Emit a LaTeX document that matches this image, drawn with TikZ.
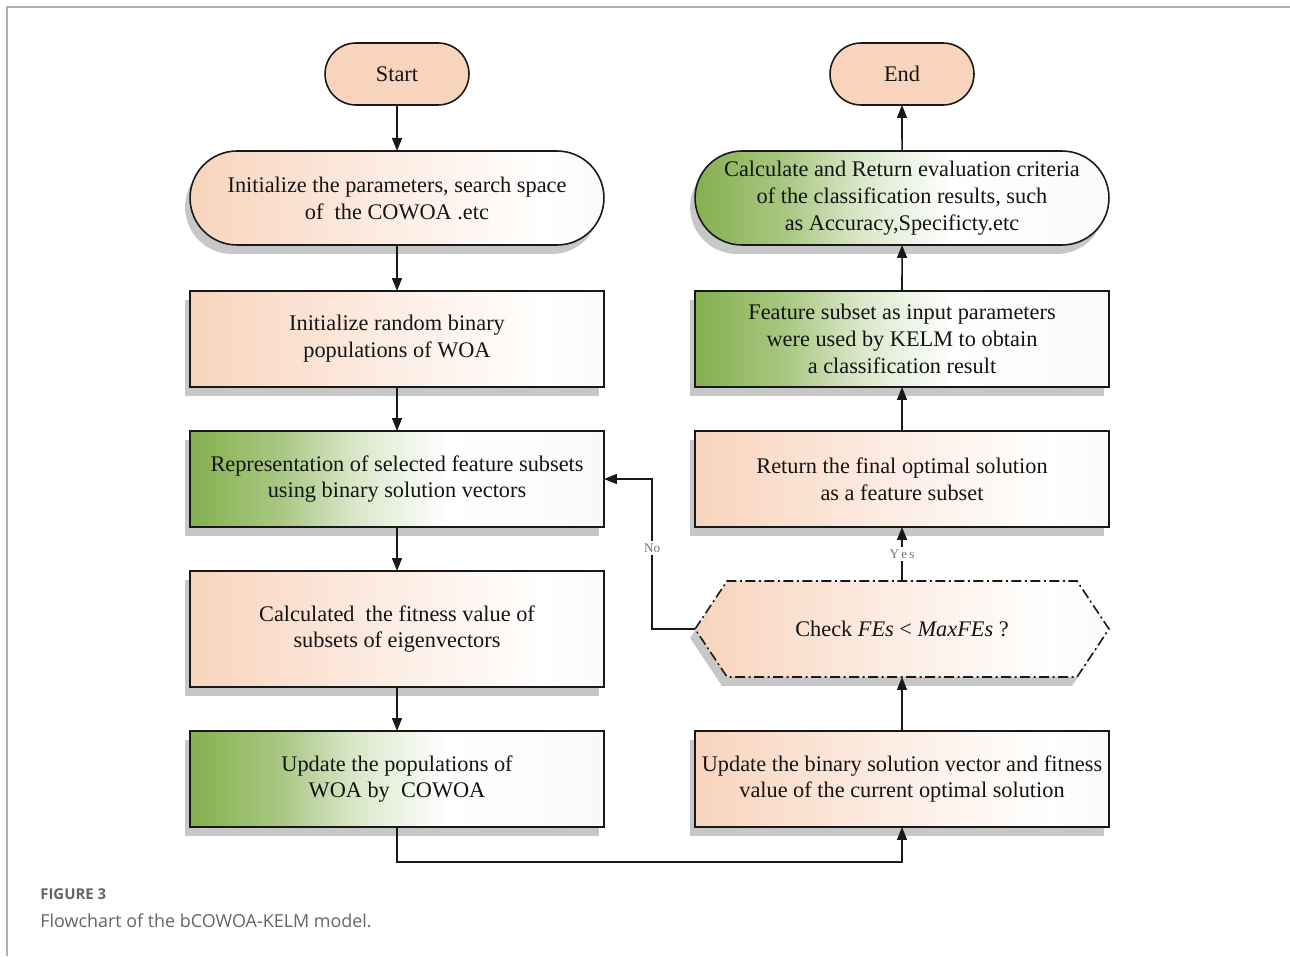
\documentclass[tikz,border=0pt]{standalone}
\usepackage{fontspec}
\setmainfont{Liberation Serif}
\newfontfamily\capfont{Open Sans}
\usetikzlibrary{arrows.meta,shapes.misc,shadows,calc,backgrounds}
\definecolor{peach}{RGB}{248,212,189}
\definecolor{leaf}{RGB}{132,176,78}
\definecolor{endwhite}{RGB}{251,248,248}
\definecolor{framegray}{RGB}{175,175,175}
\definecolor{capgray}{RGB}{100,100,100}
\pgfdeclarehorizontalshading{greenfade}{100bp}{color(0bp)=(leaf); color(25bp)=(leaf); color(36bp)=(leaf!70!white); color(45bp)=(leaf!30!white); color(56bp)=(white); color(75bp)=(endwhite); color(100bp)=(endwhite)}
\pgfdeclarehorizontalshading{peachfade}{100bp}{color(0bp)=(peach); color(25bp)=(peach); color(50bp)=(peach!40!white); color(68bp)=(white); color(75bp)=(endwhite); color(100bp)=(endwhite)}
\begin{document}
\begin{tikzpicture}[x=0.02cm,y=-0.02cm,
  base/.style={font=\fontsize{12.7}{15.3}\selectfont, align=center, text=black!92,
    line width=0.9pt, draw=black!90, inner sep=0pt, outer sep=0pt},
  shad/.style={drop shadow={shadow xshift=-0.1cm, shadow yshift=-0.18cm, fill=black!22, opacity=1}},
  boxp/.style={base, rectangle, minimum width=8.28cm, minimum height=1.92cm, shading=peachfade, shad},
  boxg/.style={base, rectangle, minimum width=8.28cm, minimum height=1.92cm, shading=greenfade, shad},
  stadp/.style={base, rounded rectangle, minimum width=8.28cm, minimum height=1.88cm, shading=peachfade, shad},
  stadg/.style={base, rounded rectangle, minimum width=8.28cm, minimum height=1.88cm, shading=greenfade, shad},
  term/.style={base, rounded rectangle, minimum width=2.88cm, minimum height=1.24cm, fill=peach},
  arr/.style={line width=0.9pt, draw=black!90, -{Triangle[length=0.26cm,width=0.2cm]}},
  lbl/.style={font=\fontsize{7.5}{8}\selectfont, text=black!55, fill=white, inner sep=1.5pt}
]
\useasboundingbox (0,0) rectangle (1290,956);
\draw[framegray, line width=1.1pt] (7,956) -- (7,7) -- (1290,7);

% left column
\node[term] (start) at (397,74) {Start};
\node[stadp] (init) at (397,198) {Initialize the parameters, search space\\of\ \ the COWOA .etc};
\node[boxp] (rand) at (397,339) {Initialize random binary\\populations of WOA};
\node[boxg] (repr) at (397,479) {Representation of selected feature subsets\\using binary solution vectors};
\node[boxp, minimum height=2.32cm] (fit) at (397,629) {Calculated\ \ the fitness value of\\subsets of eigenvectors};
\node[boxg] (upd) at (397,779) {Update the populations of\\WOA by\ \ COWOA};

% right column
\node[term] (end) at (902,74) {End};
\node[stadg] (eval) at (902,198) {Calculate and Return evaluation criteria\\of the classification results, such\\as Accuracy,Specificty.etc};
\node[boxg] (feat) at (902,339) {Feature subset as input parameters\\were used by KELM to obtain\\a classification result};
\node[boxp] (ret) at (902,479) {Return the final optimal solution\\as a feature subset};
\node[base, draw=none, minimum width=8.28cm, minimum height=1.92cm] (chk) at (902,629) {Check \textit{FEs} < \textit{MaxFEs} ?};
\node[boxp] (ubin) at (902,779) {Update the binary solution vector and fitness\\value of the current optimal solution};

\begin{scope}[on background layer]
  \fill[black!22, transform canvas={xshift=-0.1cm, yshift=-0.18cm}]
    (chk.west) -- ($(chk.north west)+(32,0)$) -- ($(chk.north east)+(-32,0)$) -- (chk.east)
    -- ($(chk.south east)+(-32,0)$) -- ($(chk.south west)+(32,0)$) -- cycle;
  \shade[shading=peachfade]
    (chk.west) -- ($(chk.north west)+(32,0)$) -- ($(chk.north east)+(-32,0)$) -- (chk.east)
    -- ($(chk.south east)+(-32,0)$) -- ($(chk.south west)+(32,0)$) -- cycle;
\end{scope}
\draw[line width=0.9pt, black!90, dash pattern=on 0.2cm off 0.07cm on 0.04cm off 0.07cm]
    (chk.west) -- ($(chk.north west)+(32,0)$) -- ($(chk.north east)+(-32,0)$) -- (chk.east)
    -- ($(chk.south east)+(-32,0)$) -- ($(chk.south west)+(32,0)$) -- cycle;

% connectors
\draw[arr] (start) -- (init);
\draw[arr] (init) -- (rand);
\draw[arr] (rand) -- (repr);
\draw[arr] (repr) -- (fit);
\draw[arr] (fit) -- (upd);
\draw[arr] (upd.south) -- ++(0,35) -| (ubin.south);
\draw[arr] (ubin) -- (chk);
\draw[arr] (chk) -- node[lbl] {Y\,e\,s} (ret);
\draw[arr] (chk.west) -- ++(-43,0) |- node[lbl, pos=0.27] {No} (repr.east);
\draw[arr] (ret) -- (feat);
\draw[arr] (feat) -- (eval);
\draw[arr] (eval) -- (end);

% caption
\node[anchor=base west, inner sep=0pt, font=\capfont\bfseries\fontsize{8.5}{10}\selectfont, text=capgray] (figlbl) at (40,899) {FIGURE 3};
\node[anchor=base west, inner sep=0pt, font=\capfont\fontsize{10.2}{12}\selectfont, text=capgray] (figcap) at (40,927) {Flowchart of the bCOWOA-KELM model.};
\end{tikzpicture}
\end{document}
